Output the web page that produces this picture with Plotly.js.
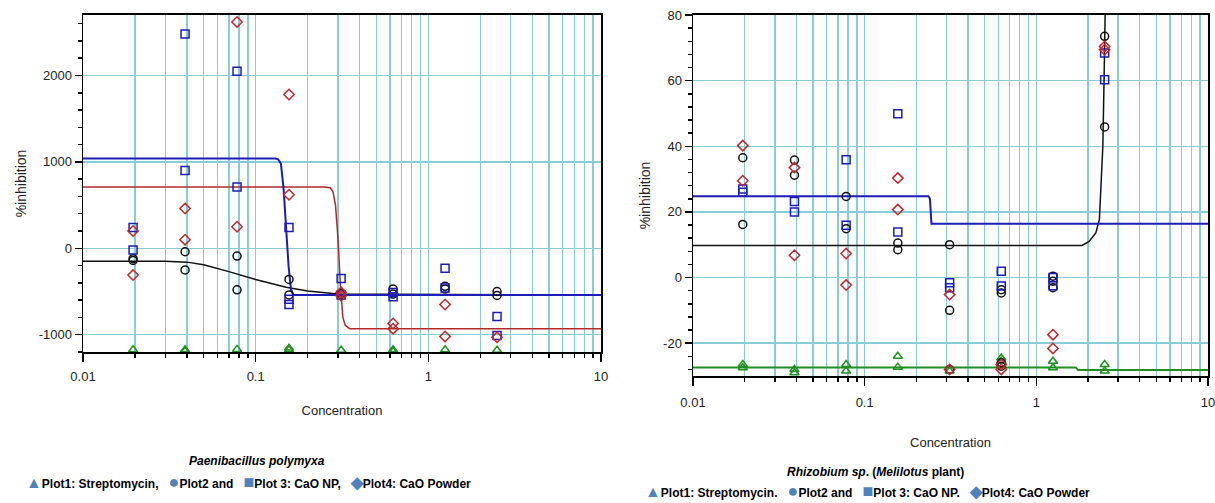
<!DOCTYPE html>
<html>
<head>
<meta charset="utf-8">
<script src="https://cdn.plot.ly/plotly-3.0.1.min.js"></script>
<style>html,body{margin:0;padding:0;background:#fff;}#chart{width:1215px;height:503px;}</style>
</head>
<body>
<div id="chart"></div>
<script>
// ---------- DATA ----------
const conc = [0.0195, 0.039, 0.078, 0.156, 0.3125, 0.625, 1.25, 2.5];
const xTickVals = [0.01, 0.1, 1, 10];
const xTickText = ['0.01', '0.1', '1', '10'];
const xMinorVals = [0.02,0.03,0.04,0.05,0.06,0.07,0.08,0.09,0.2,0.3,0.4,0.5,0.6,0.7,0.8,0.9,2,3,4,5,6,7,8,9];
const pbYTicks = [-1000, 0, 1000, 2000];
const rhYTicks = [-20, 0, 20, 40, 60, 80];

// Left panel: Paenibacillus polymyxa (replicates per concentration)
const pbStrep  = [[-1175],[-1175,-1190],[-1170],[-1155,-1175],[-1180],[-1175,-1195],[-1175],[-1180]];
const pbPlot2  = [[-120,-140],[-40,-250],[-90,-480],[-360,-540],[-520,-540],[-470,-530],[-440,-470],[-500,-545]];
const pbNP     = [[240,-20],[2480,900],[2050,710],[240,-590,-650],[-350,-540],[-510,-560],[-230,-460],[-790,-1010]];
const pbPowder = [[200,-310],[460,100],[2620,250],[1780,620],[-510,-550],[-870,-930],[-650,-1020],[-1030]];

// Left panel fitted curves
const pbNPCurveX = [0.01, 0.13, 0.135, 0.14, 0.145, 0.15, 0.155, 0.16, 0.165, 10];
const pbNPCurveY = [1040, 1040, 1030, 980, 700, 250, -200, -470, -540, -540];
const pbPowderCurveX = [0.01, 0.25, 0.27, 0.28, 0.29, 0.30, 0.31, 0.32, 0.33, 0.35, 10];
const pbPowderCurveY = [710, 710, 700, 660, 500, 100, -450, -800, -890, -930, -930];
const pbPlot2CurveX = [0.01, 0.03, 0.04, 0.05, 0.07, 0.1, 0.15, 0.2, 0.3, 10];
const pbPlot2CurveY = [-150, -150, -160, -190, -270, -360, -450, -495, -530, -540];

// Right panel: Rhizobium sp. (Melilotus plant)
const rhStrep  = [[-26.5,-27.5],[-28,-29],[-26.5,-28.5],[-24,-27.3],[-28.5],[-24.5,-25.5],[-25.5,-27.5],[-26.5,-28.5]];
const rhPlot2  = [[36.5,16.2],[35.8,31.2],[24.7,14.9],[10.5,8.5],[10,-10,-28],[-3.7,-4.7,-26,-27],[0.4,-1.1,-3.1],[73.5,45.9]];
const rhNP     = [[27,26],[23.2,20],[35.9,15.9],[49.9,13.9],[-1.6,-3.1],[1.9,-2.6],[0,-2.5],[68.4,60.3]];
const rhPowder = [[40.2,29.5],[33.5,6.8],[7.3,-2.3],[30.3,20.7],[-5.2,-28],[-26.5,-28],[-17.4,-21.6],[70.4,69.4]];

// Right panel fitted curves
const rhNPCurveX = [0.01, 0.235, 0.24, 0.245, 10];
const rhNPCurveY = [24.8, 24.8, 24, 16.4, 16.4];
const rhPlot2CurveX = [0.01, 1.85, 2.03, 2.22, 2.33, 2.36, 2.44, 2.48, 2.52];
const rhPlot2CurveY = [9.8, 9.8, 11, 13.6, 17.7, 23.7, 40, 60, 82];
const rhStrepCurveX = [0.01, 1.7, 1.75, 10];
const rhStrepCurveY = [-27.4, -27.4, -28.2, -28.2];

// ---------- STYLE ----------
const GRID = '#86cdd8';
const C_GREEN = '#1f8f1f', C_BLACK = '#111111', C_BLUE = '#1c1cb8', C_RED = '#c0282d';
const FAM = '"Liberation Sans Narrow", "Arial Narrow", "Liberation Sans", Arial, sans-serif';
const tickFont = {family: FAM, size: 13, color: '#222'};

function flat(reps) {
  const x = [], y = [];
  reps.forEach((r, i) => r.forEach(v => { x.push(conc[i]); y.push(v); }));
  return {x, y};
}
function pts(reps, sym, color, xa, ya) {
  const d = flat(reps);
  return {x: d.x, y: d.y, xaxis: xa, yaxis: ya, type: 'scatter', mode: 'markers',
    marker: {symbol: sym, size: 8, color: color, line: {color: color, width: 1.5}}, hoverinfo: 'x+y'};
}
function curve(x, y, color, w, xa, ya) {
  return {x: x, y: y, xaxis: xa, yaxis: ya, type: 'scatter', mode: 'lines', line: {color: color, width: w}, hoverinfo: 'skip'};
}

const traces = [
  curve(pbPlot2CurveX, pbPlot2CurveY, C_BLACK, 1.5, 'x', 'y'),
  curve(pbPowderCurveX, pbPowderCurveY, '#b22a2a', 1.5, 'x', 'y'),
  curve(pbNPCurveX, pbNPCurveY, C_BLUE, 2, 'x', 'y'),
  pts(pbStrep, 'triangle-up-open', C_GREEN, 'x', 'y'),
  pts(pbPlot2, 'circle-open', C_BLACK, 'x', 'y'),
  pts(pbNP, 'square-open', C_BLUE, 'x', 'y'),
  pts(pbPowder, 'diamond-open', C_RED, 'x', 'y'),

  curve(rhStrepCurveX, rhStrepCurveY, C_GREEN, 2, 'x2', 'y2'),
  curve(rhPlot2CurveX, rhPlot2CurveY, C_BLACK, 1.5, 'x2', 'y2'),
  curve(rhNPCurveX, rhNPCurveY, C_BLUE, 2, 'x2', 'y2'),
  pts(rhStrep, 'triangle-up-open', C_GREEN, 'x2', 'y2'),
  pts(rhPlot2, 'circle-open', C_BLACK, 'x2', 'y2'),
  pts(rhNP, 'square-open', C_BLUE, 'x2', 'y2'),
  pts(rhPowder, 'diamond-open', C_RED, 'x2', 'y2')
];

function xAxis(domain, anchor, labelGap, titleGap) {
  return {
    type: 'log', range: [-2, 1], domain: domain, anchor: anchor,
    tickmode: 'array', tickvals: xTickVals, ticktext: xTickText,
    ticks: 'outside', ticklen: 8, tickwidth: 1.5, tickcolor: '#000', ticklabelstandoff: labelGap,
    ticklabeloverflow: 'allow',
    showline: true, linecolor: '#000', linewidth: 2, mirror: true,
    showgrid: true, gridcolor: GRID, gridwidth: 1.5, zeroline: false,
    minor: {tickmode: 'array', tickvals: xMinorVals, ticks: 'outside', ticklen: 4, tickcolor: '#000',
            showgrid: true, gridcolor: GRID, gridwidth: 1.5},
    tickfont: tickFont,
    title: {text: 'Concentration', font: tickFont, standoff: titleGap}
  };
}
function yAxis(domain, anchor, range, tv, minorDtick) {
  return {
    range: range, domain: domain, anchor: anchor,
    tickmode: 'array', tickvals: tv, ticktext: tv.map(v => String(v)),
    ticks: 'outside', ticklen: 7, tickwidth: 1.5, tickcolor: '#000', ticklabeloverflow: 'allow',
    showline: true, linecolor: '#000', linewidth: 1.5, mirror: true,
    showgrid: true, gridcolor: GRID, gridwidth: 1.5, zeroline: false,
    minor: {tickmode: 'linear', tick0: 0, dtick: minorDtick, ticks: 'outside', ticklen: 4, tickcolor: '#000', showgrid: false},
    tickfont: tickFont,
    title: {text: '%inhibition', font: {family: FAM, size: 14, color: '#222'}, standoff: 9}
  };
}

const H = 503, W = 1215;
const BLUE_LEG = '#4f81bd';
const legFont = {family: FAM, size: 12, color: '#000'};
const g = (s, fs) => '<span style="font-size:' + fs + 'px;color:' + BLUE_LEG + '">' + s + '</span>';
const sp = '\u00a0\u00a0';
function legendLine(sep) {
  return '<b>' + g('▲', 16) + 'Plot1: Streptomycin' + sep + sp + '\u00a0' +
    g('●', 18) + 'Plot2 and' + sp + '\u00a0' +
    g('■', 18) + 'Plot 3: CaO NP' + sep + sp + '\u00a0' +
    g('◆', 16) + 'Plot4: CaO Powder</b>';
}

const layout = {
  width: W, height: H, margin: {l: 0, r: 0, t: 0, b: 0},
  paper_bgcolor: '#fff', plot_bgcolor: '#fff', showlegend: false,
  xaxis: xAxis([83 / W, 601 / W], 'y', 3, 23),
  yaxis: yAxis([(H - 352) / H, (H - 15) / H], 'x', [-1200, 2700], pbYTicks, 200),
  xaxis2: xAxis([693 / W, 1208 / W], 'y2', 5, 29),
  yaxis2: yAxis([(H - 376) / H, (H - 15) / H], 'x2', [-30, 80], rhYTicks, 4),
  annotations: [
    {xref: 'paper', yref: 'paper', x: 257 / W, y: (H - 461) / H, xanchor: 'center', yanchor: 'middle',
     text: '<b><i>Paenibacillus polymyxa</i></b>', showarrow: false, font: legFont},
    {xref: 'paper', yref: 'paper', x: 248 / W, y: (H - 482) / H, xanchor: 'center', yanchor: 'middle',
     text: legendLine(','), showarrow: false, font: legFont},
    {xref: 'paper', yref: 'paper', x: 875 / W, y: (H - 472) / H, xanchor: 'center', yanchor: 'middle',
     text: '<b><i>Rhizobium sp</i>. (<i>Melilotus</i> plant)</b>', showarrow: false, font: legFont},
    {xref: 'paper', yref: 'paper', x: 868 / W, y: 0, xanchor: 'center', yanchor: 'bottom',
     text: legendLine('.'), showarrow: false, font: legFont}
  ]
};

Plotly.newPlot('chart', traces, layout, {displayModeBar: false, staticPlot: true});
</script>
</body>
</html>
